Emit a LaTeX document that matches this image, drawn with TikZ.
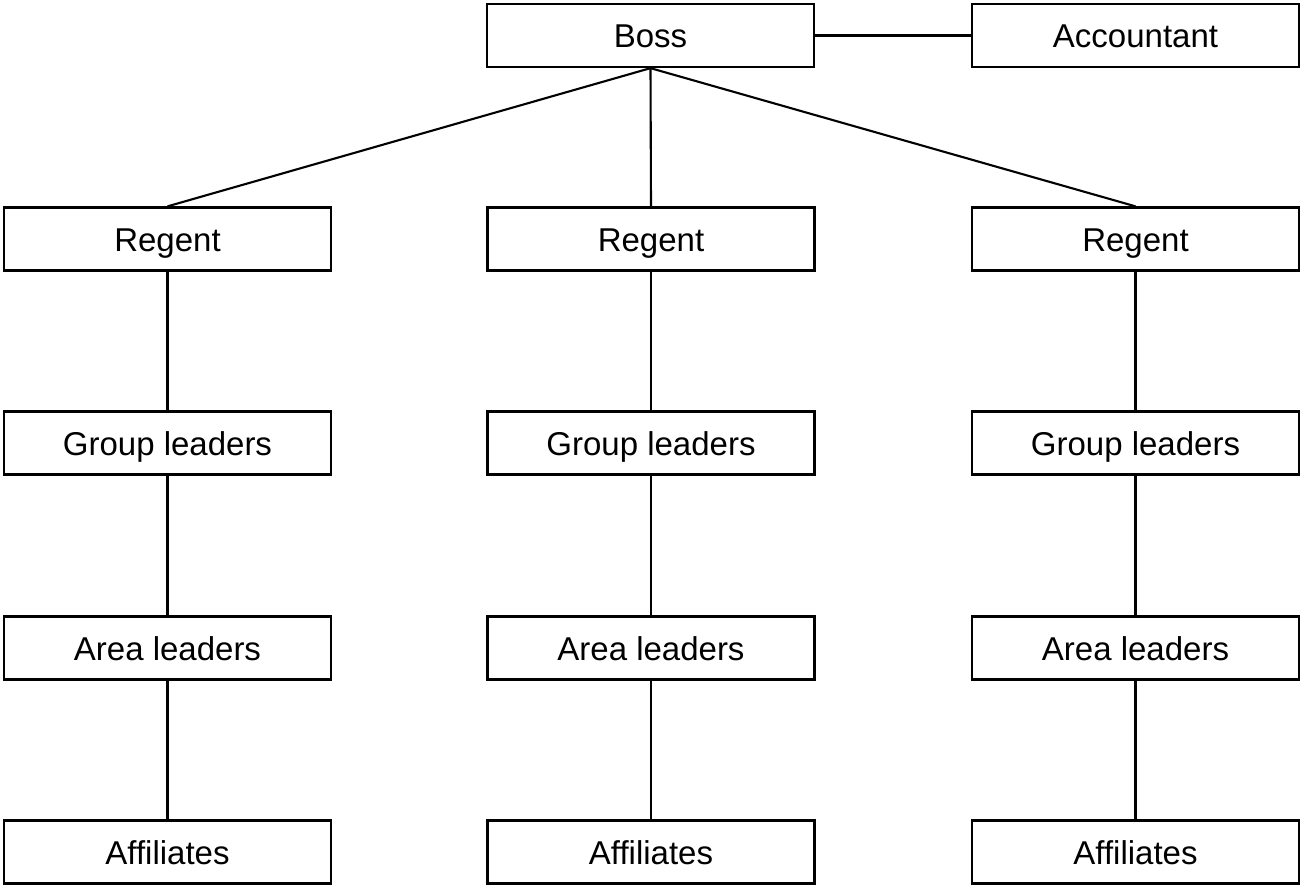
\documentclass[tikz,border=0pt]{standalone}
\usepackage{fontspec}
\setmainfont{Liberation Sans}
\begin{document}
\begin{tikzpicture}[x=1pt,y=-1pt,
  box/.style={draw,line width=2.3pt,minimum width=327pt,minimum height=63pt,inner sep=0pt,text height=24pt,text depth=0pt,font=\fontsize{33}{36}\selectfont},
  conn/.style={line width=2.1pt}]
\useasboundingbox (0,0) rectangle (1304,888);
\node[box] (boss) at (650.5,35.5) {Boss};
\node[box] (acc) at (1135.5,35.5) {Accountant};
\foreach \c/\x in {l/167.5,m/651,r/1135.5}{
  \node[box] (reg\c) at (\x,239) {Regent};
  \node[box] (grp\c) at (\x,443) {Group leaders};
  \node[box] (area\c) at (\x,648) {Area leaders};
  \node[box] (aff\c) at (\x,852) {Affiliates};
  \draw[conn] (reg\c) -- (grp\c);
  \draw[conn] (grp\c) -- (area\c);
  \draw[conn] (area\c) -- (aff\c);
}
\draw[conn] (boss) -- (acc);
\draw[conn] (boss.south) -- (regl.north);
\draw[conn] (boss.south) -- (regm.north);
\draw[conn] (boss.south) -- (regr.north);
\end{tikzpicture}
\end{document}
